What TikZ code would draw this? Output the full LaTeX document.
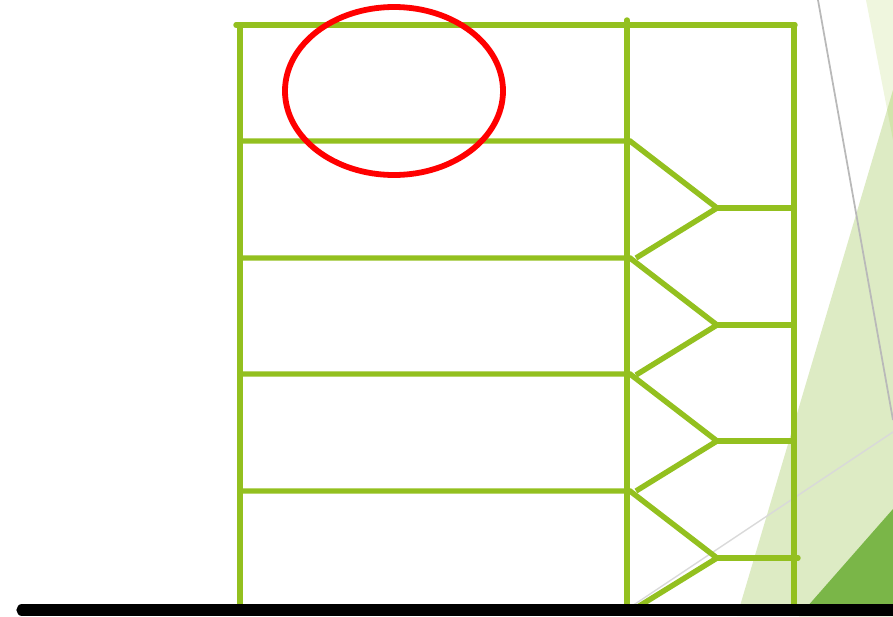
\documentclass[tikz,border=0pt]{standalone}
\usepackage{tikz}
\definecolor{leaf}{HTML}{93C01F}
\definecolor{paleleaf}{HTML}{DDEBC4}
\definecolor{darkleaf}{HTML}{7AB648}

\begin{document}
\begin{tikzpicture}[x=0.02cm, y=-0.02cm,
    frame/.style={draw=leaf, line width=3.1pt, line cap=round},
    ring/.style={draw=red, line width=3.3pt},
    ground/.style={draw=black, line width=6.4pt, line cap=round}]
  \useasboundingbox (0,0) rectangle (893,616);
  % background facets
  \begin{scope}
    \clip (0,0) rectangle (893,616);
    \fill[paleleaf] (893,90) -- (893,616) -- (737,616) -- cycle;
    \fill[leaf, opacity=0.15] (866,0) -- (893,0) -- (893,140) -- cycle;
    \fill[darkleaf] (893,509) -- (893,616) -- (799,616) -- cycle;
    \draw[gray!55, line width=1pt] (818,0) -- (893,420);
    \draw[gray!30, line width=0.8pt] (893,432) -- (620,614);
  \end{scope}
  % frame
  \draw[frame] (236,25) -- (795,25);
  \draw[frame] (240,25) -- (240,606);
  \draw[frame] (627,20) -- (627,605);
  \draw[frame] (794,25) -- (794,606);
  \foreach \y in {141,258,374,491}{
    \draw[frame, line cap=butt] (240,\y) -- (630,\y) -- (717,\y+67) -- (636,\y+117);
    \draw[frame] (717,\y+67) -- (794,\y+67);
  }
  \draw[frame] (794,558) -- (798,558);
  % highlight
  \draw[ring] (394,91) ellipse [x radius=109, y radius=84];
  \draw[ground] (22,610) -- (900,610);
\end{tikzpicture}
\end{document}
